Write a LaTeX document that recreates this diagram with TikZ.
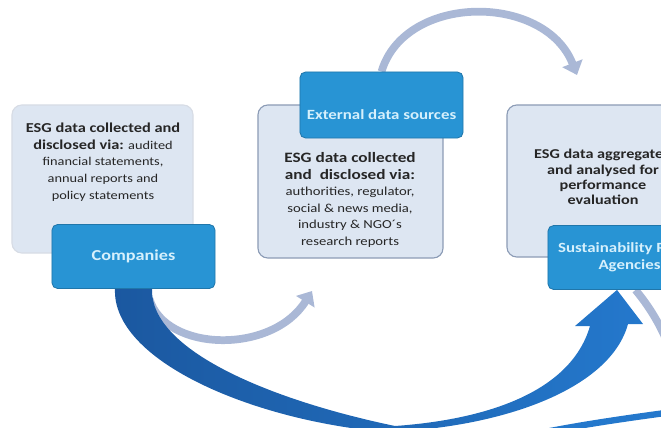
\documentclass[tikz,border=0pt]{standalone}
\usepackage{fontspec}
\setmainfont{Carlito}[FakeStretch=1.2]
\usepackage{tikz}
\usetikzlibrary{arrows.meta, positioning, calc, backgrounds}
\definecolor{esgpale}{RGB}{221,230,242}
\definecolor{esgedge}{RGB}{140,156,182}
\definecolor{esgblue}{RGB}{40,148,212}
\definecolor{esgdeep}{RGB}{27,88,160}
\definecolor{esgbright}{RGB}{36,120,204}
\definecolor{esgflow}{RGB}{170,184,214}
\definecolor{esgtext}{RGB}{38,38,38}
\definecolor{esglabel}{RGB}{214,240,252}
\newcommand{\esghead}[1]{{\bfseries\fontsize{10.2}{11.5}\selectfont #1}}
\tikzset{
  panel/.style={fill=esgpale, draw=esgedge, line width=0.8pt, rounded corners=7pt},
  tag/.style={fill=esgblue, draw=esgblue!80!black, line width=0.6pt, rounded corners=4pt,
    minimum width=4.075cm, minimum height=1.6cm, text=esglabel,
    font=\bfseries\fontsize{10}{12}\selectfont},
  paneltext/.style={text=esgtext, align=center, font=\fontsize{8.7}{11.7}\selectfont},
  flow/.style={draw=esgflow, line width=5.5pt, -{Triangle[width=15pt,length=9pt]}},
}

\begin{document}
\begin{tikzpicture}[x=0.025cm, y=-0.025cm, every node/.style={align=center}]
  \useasboundingbox (0,0) rectangle (661,427);
  \clip (0,0) rectangle (661,427);
  % grey panels
  \node[panel, draw=esgedge!35, minimum width=4.525cm, minimum height=3.7cm] (firmbox) at (102.5,179) {};
  \node[panel, minimum width=4.625cm, minimum height=3.825cm] (extbox) at (350.5,181.5) {};
  \node[panel, minimum width=4.625cm, minimum height=3.8cm] (ratebox) at (599.5,181) {};
  % blue tags
  \node[tag, font=\bfseries\fontsize{10.8}{12}\selectfont] (comp) at (133.5,256.5) {Companies};
  \node[tag, minimum height=1.65cm, text height=23pt, text depth=2pt] (extsrc) at (381.5,105) {External data sources};
  \node[tag] (rating) at (629.5,257.5) {Sustainability Rating\\Agencies};
  % panel texts
  \node[paneltext, font=\fontsize{8.5}{11.9}\selectfont] (firmtext) at (103,162)
    {\esghead{\fontsize{9.7}{11.9}\selectfont ESG data collected and}\\ \esghead{\fontsize{9.7}{11.9}\selectfont disclosed via:} audited\\ financial statements,\\ annual reports and\\ policy statements};
  \node[paneltext] (exttext) at (350,200)
    {\esghead{ESG data collected}\\ \esghead{and\ \ disclosed via:}\\ authorities, regulator,\\ social \& news media,\\ industry \& NGO´s\\ research reports};
  \node[paneltext, font=\bfseries\fontsize{9.6}{10.8}\selectfont] (ratetext) at (603,177)
    {ESG data aggregated\\ and analysed for\\ performance\\ evaluation};
  \coordinate (rateIn) at (577,75);
  \coordinate (extIn) at (312,291);
  \begin{scope}[on background layer]
    % light flows
    \draw[flow] (extsrc.north) .. controls (405,-7) and (545,-7) .. (rateIn);
    \draw[flow] ($(comp.south)+(16,10)$) .. controls (165,352) and (272,355) .. (extIn);
    \draw[draw=esgflow, line width=5.5pt] ($(rating.south)+(6,0)$) .. controls (652,310) and (668,335) .. (680,380);
    % big sweep from the companies to the agencies
    \shade[left color=esgdeep, right color=esgbright]
      ($(comp.south)+(-18.5,0)$) -- ($(comp.south)+(18.5,0)$)
      .. controls (150,350) and (270,400) .. (395,426)
      .. controls (480,420) and (570,395) .. (590,326)
      -- (575,326) -- ($(rating.south)+(-12.5,0)$) -- (643,324) -- (628,324)
      .. controls (610,390) and (500,428) .. (385,432)
      .. controls (250,420) and (112,360) .. cycle;
    \draw[esgbright, line width=4.5pt] (540,433) .. controls (580,425) and (620,419) .. (680,411);
  \end{scope}
\end{tikzpicture}
\end{document}
